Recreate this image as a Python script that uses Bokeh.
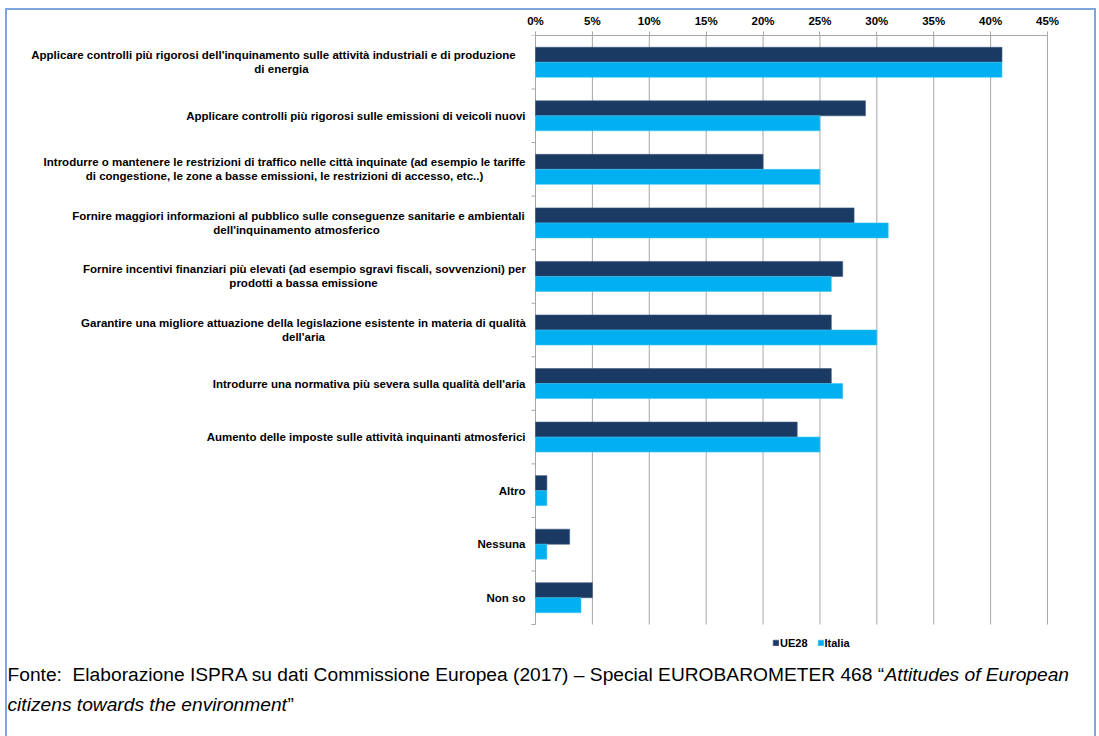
import subprocess
from bokeh.plotting import figure
from bokeh.models import (Range1d, FixedTicker, PrintfTickFormatter,
                          Label, Legend, LegendItem, ColumnDataSource)
from bokeh.transform import dodge
from bokeh.embed import file_html
from bokeh.resources import INLINE

# ---------------- data ----------------
categories = [
    "Applicare controlli più rigorosi dell'inquinamento sulle attività industriali e di produzione\ndi energia",
    "Applicare controlli più rigorosi sulle emissioni di veicoli nuovi",
    "Introdurre o mantenere le restrizioni di traffico nelle città inquinate (ad esempio le tariffe\ndi congestione, le zone a basse emissioni, le restrizioni di accesso, etc..)",
    "Fornire maggiori informazioni al pubblico sulle conseguenze sanitarie e ambientali\ndell'inquinamento atmosferico",
    "Fornire incentivi finanziari più elevati (ad esempio sgravi fiscali, sovvenzioni) per\nprodotti a bassa emissione",
    "Garantire una migliore attuazione della legislazione esistente in materia di qualità\ndell'aria",
    "Introdurre una normativa più severa sulla qualità dell'aria",
    "Aumento delle imposte sulle attività inquinanti atmosferici",
    "Altro",
    "Nessuna",
    "Non so",
]
ue28 = [41, 29, 20, 28, 27, 26, 26, 23, 1, 3, 5]
italia = [41, 25, 25, 31, 26, 30, 27, 25, 1, 1, 4]
series_names = ["UE28", "Italia"]
x_ticks = [0, 5, 10, 15, 20, 25, 30, 35, 40, 45]
caption_line1_normal = "Fonte:\u00a0 Elaborazione ISPRA su dati Commissione Europea (2017) \u2013 Special EUROBAROMETER 468 \u201c"
caption_line1_italic = "Attitudes of European"
caption_line2_italic = "citizens towards the environment"
caption_line2_normal = "\u201d"

# ---------------- style / layout ----------------
C_UE = "#1b3a63"
C_IT = "#00b0f0"
GRID = "#a6a6a6"
FONT = "Liberation Sans"

try:
    fl = subprocess.run(["fc-list"], capture_output=True, text=True).stdout
except Exception:
    fl = ""
if "Liberation Sans Narrow" in fl:
    CAP_FONT, CAP_SIZE = "Liberation Sans Narrow", "22px"
else:
    CAP_FONT, CAP_SIZE = "Liberation Sans", "19.2px"

n = len(categories)
W, H = 1091, 728            # canvas, placed at page (5, 8)
X0, X45 = 530, 1042          # canvas x of 0% and 45%
TOP, BOT = 27, 616           # canvas y of the plot area top / bottom
pxu = (X45 - X0) / 45.0      # px per percent
pyu = (BOT - TOP) / n        # px per category

p = figure(width=W, height=H, output_backend="svg", toolbar_location=None,
           x_range=Range1d(-X0 / pxu, (W - X0) / pxu),
           y_range=Range1d(-(H - BOT) / pyu, n),
           x_axis_location="above", y_axis_location=None,
           min_border_left=0, min_border_right=0, min_border_top=TOP, min_border_bottom=0)
p.outline_line_color = None
p.border_fill_alpha = 0
p.background_fill_alpha = 0
p.styles = {"margin-left": "5px", "margin-top": "8px",
            "box-shadow": "inset 2px 2px 0 0 #7ea6de, inset -2px 0 0 0 #7ea6de"}
p.xgrid.grid_line_color = None
p.ygrid.grid_line_color = None

# grid lines and category boundary ticks (limited to the plot area)
p.segment(x0=x_ticks, y0=[0] * len(x_ticks), x1=x_ticks, y1=[n] * len(x_ticks),
          line_color=GRID, line_width=1)
bounds_y = list(range(n + 1))
p.segment(x0=[-4 / pxu] * len(bounds_y), y0=bounds_y, x1=[0] * len(bounds_y), y1=bounds_y,
          line_color=GRID, line_width=1)

ys = [n - i - 0.5 for i in range(n)]
src = ColumnDataSource(dict(y=ys, ue28=ue28, italia=italia))
bh = 0.28
r1 = p.hbar(y=dodge("y", bh / 2), left=0, right="ue28", height=bh, source=src,
            fill_color=C_UE, line_color="#3d5a80", line_width=0.6)
r2 = p.hbar(y=dodge("y", -bh / 2), left=0, right="italia", height=bh, source=src,
            fill_color=C_IT, line_color="#40c4f4", line_width=0.6)

# x axis (top)
xa = p.xaxis[0]
xa.bounds = (0, 45)
xa.ticker = FixedTicker(ticks=x_ticks)
xa.formatter = PrintfTickFormatter(format="%d%%")
xa.major_tick_out = 4
xa.major_tick_in = 0
xa.axis_line_color = GRID
xa.major_tick_line_color = GRID
xa.minor_tick_line_color = None
xa.major_label_standoff = 5
xa.major_label_text_font = FONT
xa.major_label_text_font_style = "bold"
xa.major_label_text_font_size = "11.5px"
xa.major_label_text_color = "#000000"

# category labels: centre offsets (px from 0%) for wrapped labels
wrap_centers = {0: (-262, -254), 2: (-251, -251), 3: (-237, -239), 4: (-231, -232), 5: (-232, -232)}
lab_kw = dict(x=0, text_baseline="middle", text_font=FONT, text_font_size="11.5px",
              text_font_style="bold", text_color="#000000")
for i, cat in enumerate(categories):
    lines = cat.split("\n")
    if len(lines) == 1:
        p.add_layout(Label(y=ys[i], x_offset=-10, y_offset=0, text=lines[0],
                           text_align="right", **lab_kw))
    else:
        c = wrap_centers[i]
        for k, ln in enumerate(lines):
            p.add_layout(Label(y=ys[i], x_offset=c[k], y_offset=7 - 14 * k, text=ln,
                               text_align="center", **lab_kw))

# legend below the plot
legend = Legend(items=[LegendItem(label=series_names[0], renderers=[r1]),
                       LegendItem(label=series_names[1], renderers=[r2])],
                orientation="horizontal", location=(767, 87), padding=0, margin=0,
                spacing=9, label_standoff=1, glyph_width=7, glyph_height=7,
                label_height=13, label_text_font=FONT, label_text_font_size="11px",
                label_text_font_style="bold", label_text_color="#000000",
                border_line_color=None, background_fill_alpha=0)
p.add_layout(legend)

# caption (source note)
cap_kw = dict(x=0, y=0, text_baseline="middle", text_font=CAP_FONT, text_font_size=CAP_SIZE,
              text_color="#000000", text_align="left")
p.add_layout(Label(text=caption_line1_normal, x_offset=-528, y_offset=-50, **cap_kw))
p.add_layout(Label(text=caption_line1_italic, x_offset=349, y_offset=-50, text_font_style="italic", **cap_kw))
p.add_layout(Label(text=caption_line2_italic, x_offset=-528, y_offset=-80, text_font_style="italic", **cap_kw))
p.add_layout(Label(text=caption_line2_normal, x_offset=-248, y_offset=-80, **cap_kw))

open("out.html", "w").write(file_html(p, INLINE))
